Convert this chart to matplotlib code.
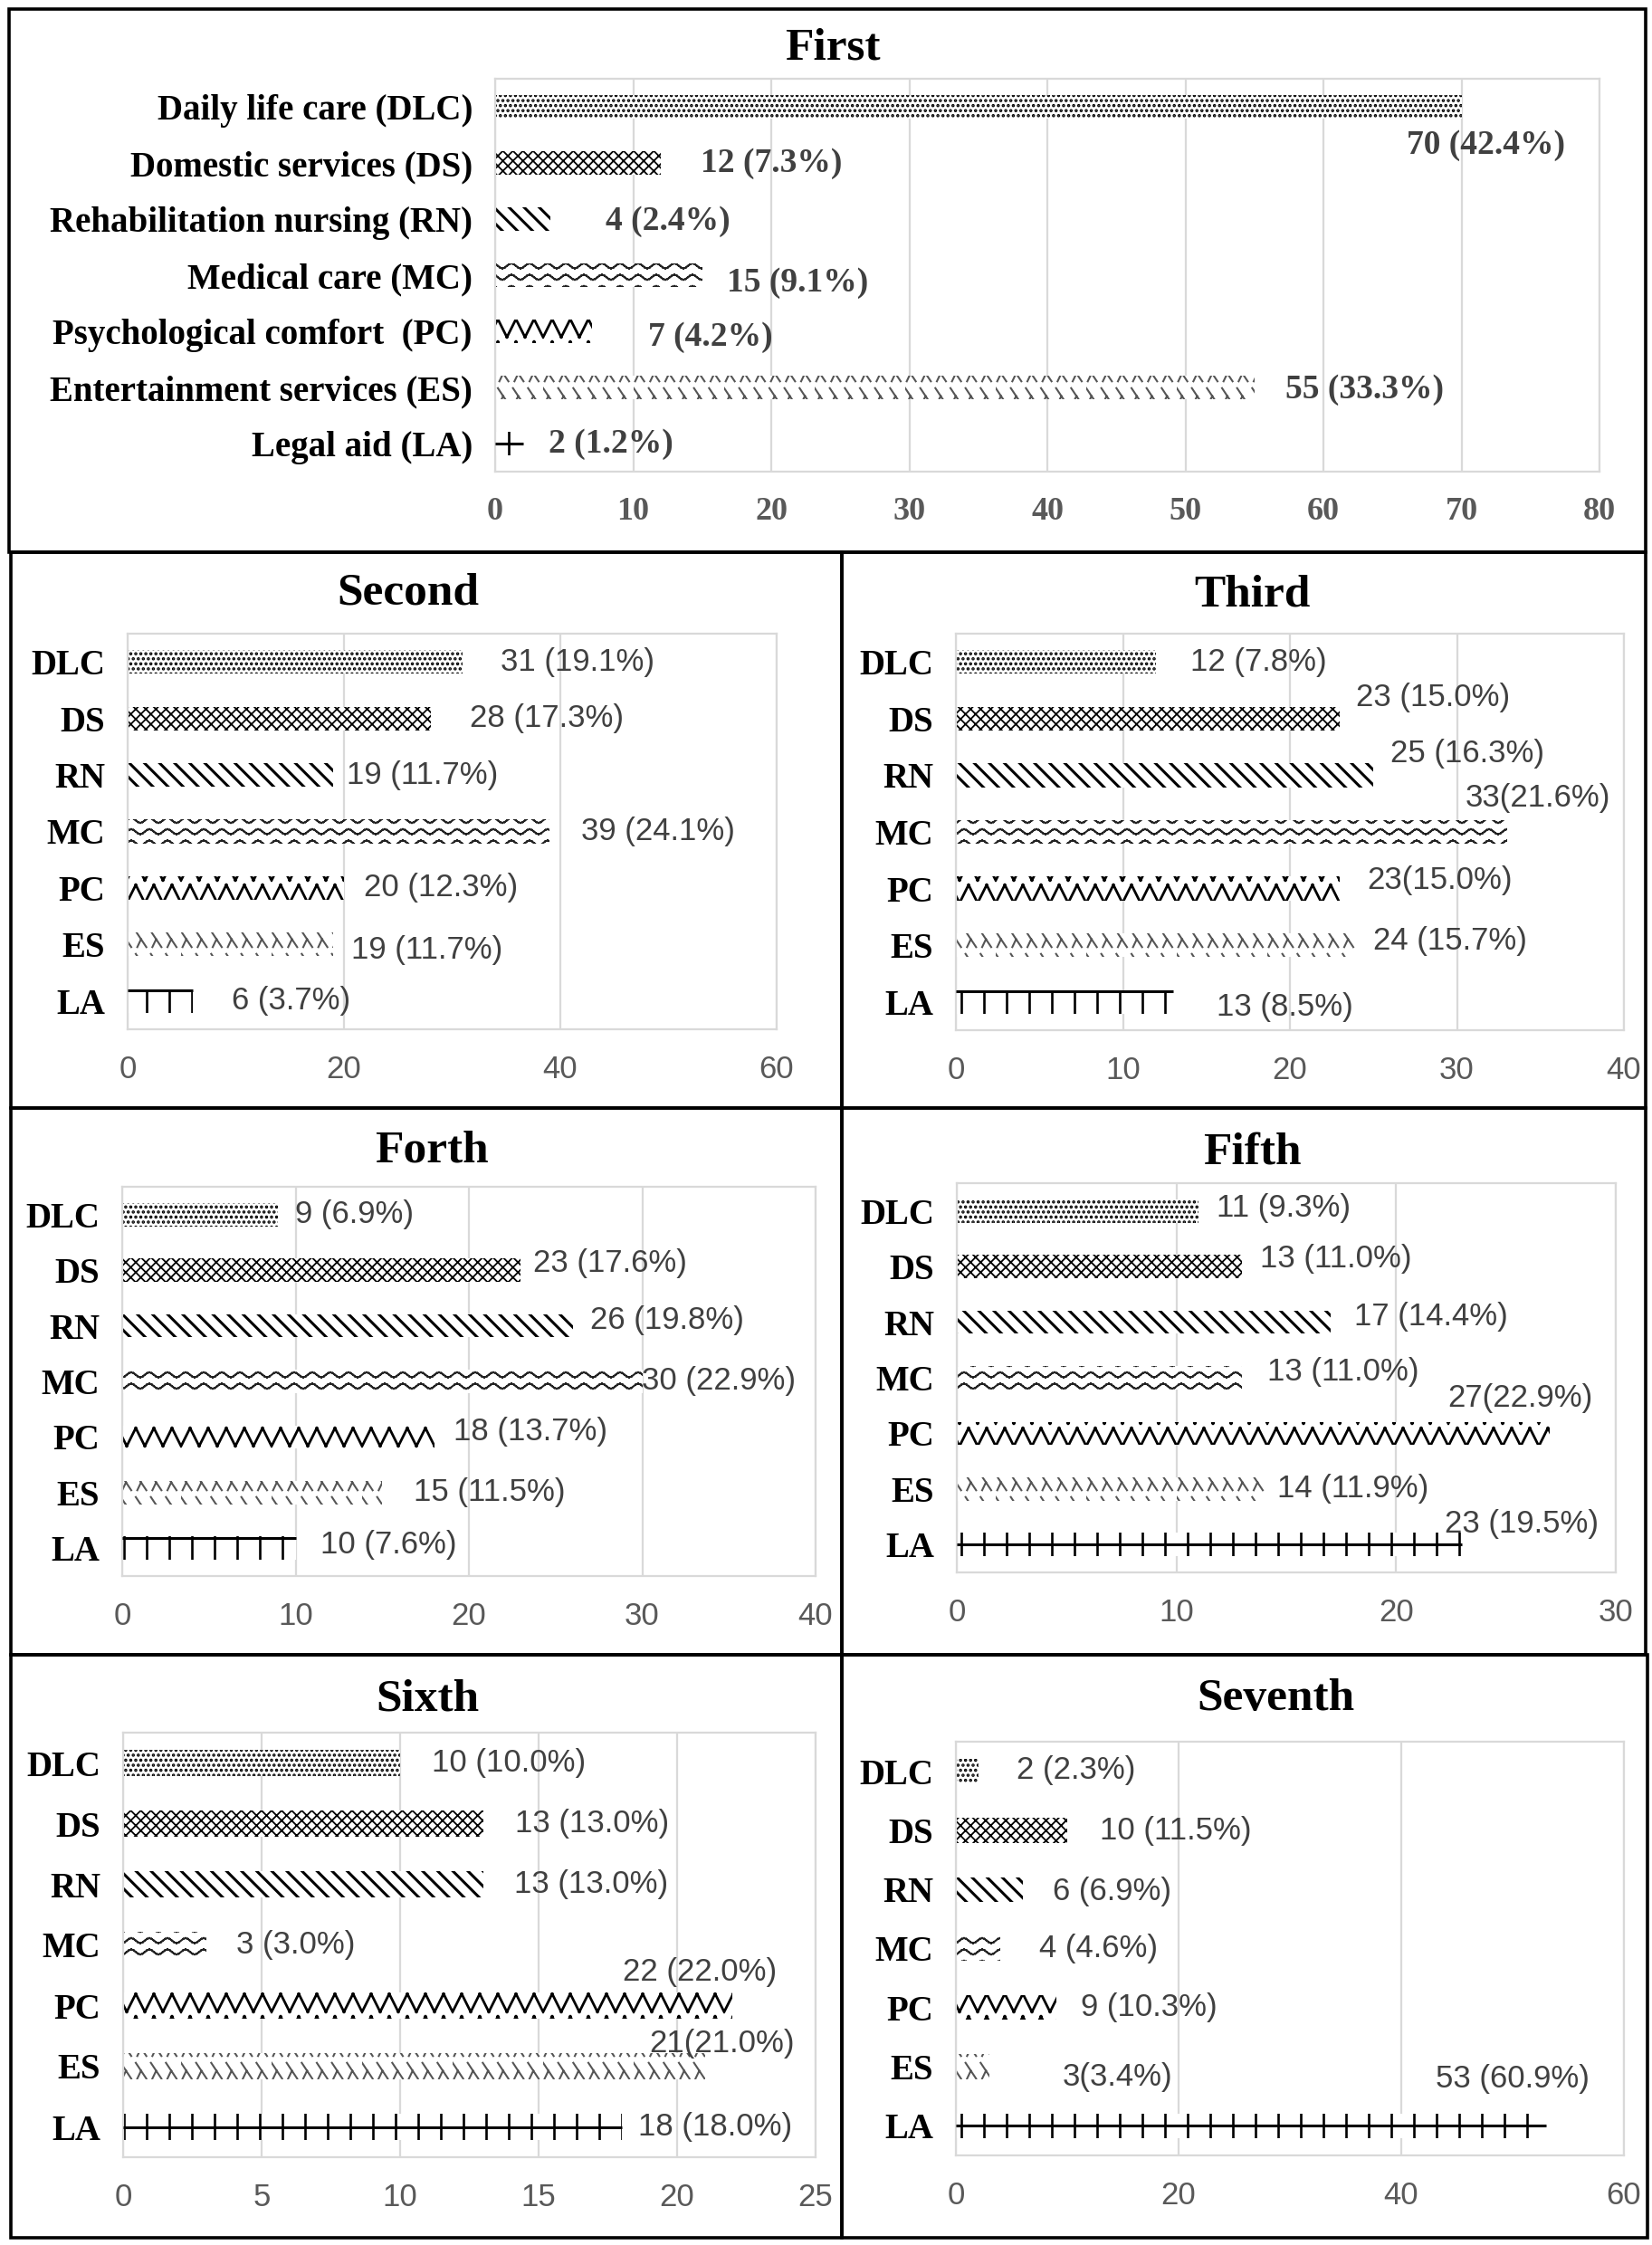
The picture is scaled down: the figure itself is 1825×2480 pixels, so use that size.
import warnings
import numpy as np
import matplotlib
matplotlib.use('Agg')
import matplotlib.pyplot as plt
import matplotlib.hatch as mhatch
from matplotlib.path import Path
from matplotlib.patches import Rectangle

warnings.filterwarnings('ignore')

# ---- data -------------------------------------------------------------
long_names = ['Daily life care (DLC)', 'Domestic services (DS)', 'Rehabilitation nursing (RN)',
              'Medical care (MC)', 'Psychological comfort  (PC)', 'Entertainment services (ES)',
              'Legal aid (LA)']
short_names = ['DLC', 'DS', 'RN', 'MC', 'PC', 'ES', 'LA']
titles = ['First', 'Second', 'Third', 'Forth', 'Fifth', 'Sixth', 'Seventh']

first = [70, 12, 4, 15, 7, 55, 2]
second = [31, 28, 19, 39, 20, 19, 6]
third = [12, 23, 25, 33, 23, 24, 13]
forth = [9, 23, 26, 30, 18, 15, 10]
fifth = [11, 13, 17, 13, 27, 14, 23]
sixth = [10, 13, 13, 3, 22, 21, 18]
seventh = [2, 10, 6, 4, 9, 3, 53]

first_lbl = ['70 (42.4%)', '12 (7.3%)', '4 (2.4%)', '15 (9.1%)', '7 (4.2%)', '55 (33.3%)', '2 (1.2%)']
second_lbl = ['31 (19.1%)', '28 (17.3%)', '19 (11.7%)', '39 (24.1%)', '20 (12.3%)', '19 (11.7%)', '6 (3.7%)']
third_lbl = ['12 (7.8%)', '23 (15.0%)', '25 (16.3%)', '33(21.6%)', '23(15.0%)', '24 (15.7%)', '13 (8.5%)']
forth_lbl = ['9 (6.9%)', '23 (17.6%)', '26 (19.8%)', '30 (22.9%)', '18 (13.7%)', '15 (11.5%)', '10 (7.6%)']
fifth_lbl = ['11 (9.3%)', '13 (11.0%)', '17 (14.4%)', '13 (11.0%)', '27(22.9%)', '14 (11.9%)', '23 (19.5%)']
sixth_lbl = ['10 (10.0%)', '13 (13.0%)', '13 (13.0%)', '3 (3.0%)', '22 (22.0%)', '21(21.0%)', '18 (18.0%)']
seventh_lbl = ['2 (2.3%)', '10 (11.5%)', '6 (6.9%)', '4 (4.6%)', '9 (10.3%)', '3(3.4%)', '53 (60.9%)']

x_max = [80, 60, 40, 40, 30, 25, 60]
x_step = [10, 20, 10, 10, 10, 5, 20]

# ---- layout (pixels of the 1825x2480 canvas) -------------------------
W, H = 1825, 2480
# axes box: left, right, top, bottom
ax_px = [(547, 1767, 87, 521), (141, 858, 700, 1137), (1056, 1794, 700, 1138),
         (135, 901, 1311, 1741), (1057, 1785, 1307, 1737),
         (136, 901, 1914, 2383), (1056, 1794, 1924, 2381)]
title_px = [(920, 53), (451, 656), (1383, 657), (477, 1272), (1383, 1273), (472, 1877), (1409, 1877)]
box_px = [(10, 1818, 10, 610), (12, 930, 610, 1224), (930, 1818, 610, 1224),
          (12, 930, 1224, 1828), (930, 1818, 1224, 1828),
          (12, 930, 1828, 2472), (930, 1820, 1828, 2472)]
# label offsets from bar end: (gap px, down px)
label_off = [
    [(-60, 43), (44, 0), (61, 2), (27, 8), (62, 6), (34, 2), (28, 0)],
    [(42, 0), (43, 0), (15, 0), (35, 0), (22, 0), (20, 6), (43, 0)],
    [(38, 0), (18, -23), (19, -24), (-46, -38), (30, -9), (18, -5), (48, 6)],
    [(19, 0), (14, -8), (19, -6), (-1, 0), (21, -6), (35, 0), (28, -4)],
    [(20, -3), (20, -9), (26, -6), (28, -7), (-113, -39), (14, 0), (-19, -23)],
    [(35, 0), (35, 0), (34, 0), (33, 0), (-121, -37), (-61, -25), (18, 0)],
    [(42, -1), (36, 1), (33, 2), (43, 0), (27, 0), (81, 11), (-122, -52)],
]
la_line_top = [False, True, True, True, False, False, False]


# ---- Excel-like fill patterns as extra hatch types --------------------
# every stroke is its own MOVETO/LINETO pair so the agg hatch fill stays empty
def put_polyline(vertices, codes, k, xs, ys):
    n = len(xs) - 1
    vertices[k:k + 2 * n:2, 0] = xs[:-1]
    vertices[k:k + 2 * n:2, 1] = ys[:-1]
    vertices[k + 1:k + 2 * n:2, 0] = xs[1:]
    vertices[k + 1:k + 2 * n:2, 1] = ys[1:]
    codes[k:k + 2 * n:2] = Path.MOVETO
    codes[k + 1:k + 2 * n:2] = Path.LINETO
    return k + 2 * n


class WaveHatch(mhatch.HatchPatternBase):
    def __init__(self, hatch, density):
        self.rows = hatch.count('w') * 8
        self.pts = 5 * 8 + 1
        self.num_vertices = self.rows * (self.pts - 1) * 2

    def set_vertices_and_codes(self, vertices, codes):
        t = np.linspace(0, 1, self.pts)
        k = 0
        for r in range(self.rows):
            ys = (r + 0.5 + 0.22 * np.sin(2 * np.pi * 5 * t)) / self.rows
            k = put_polyline(vertices, codes, k, t, ys)


class ZigHatch(mhatch.HatchPatternBase):
    def __init__(self, hatch, density):
        self.rows = hatch.count('z') * 4
        self.pts = 2 * 5 + 1
        self.num_vertices = self.rows * (self.pts - 1) * 2

    def set_vertices_and_codes(self, vertices, codes):
        t = np.linspace(0, 1, self.pts)
        up = np.arange(self.pts) % 2
        k = 0
        for r in range(self.rows):
            ys = (r + 0.1 + 0.8 * up) / self.rows
            k = put_polyline(vertices, codes, k, t, ys)


class LambdaHatch(mhatch.HatchPatternBase):
    def __init__(self, hatch, density):
        self.rows = hatch.count('y') * 4
        self.per = 6
        self.num_vertices = self.rows * self.per * 4

    def set_vertices_and_codes(self, vertices, codes):
        p = 1.0 / self.per
        k = 0
        for r in range(self.rows):
            lo = (r + 0.15) / self.rows
            hi = (r + 0.85) / self.rows
            for i in range(self.per):
                x0 = i * p
                vertices[k:k + 4] = [(x0, hi), (x0 + 0.7 * p, lo),
                                     (x0 + 0.35 * p, (lo + hi) / 2), (x0 + 0.1 * p, lo)]
                codes[k:k + 4] = [Path.MOVETO, Path.LINETO, Path.MOVETO, Path.LINETO]
                k += 4


class TickHatch(mhatch.HatchPatternBase):
    def __init__(self, hatch, density):
        self.n = hatch.count('t') * 4
        self.num_vertices = self.n * 2

    def set_vertices_and_codes(self, vertices, codes):
        xs = (np.arange(self.n) + 0.5) / self.n
        vertices[0::2, 0] = xs
        vertices[0::2, 1] = 0.0
        vertices[1::2, 0] = xs
        vertices[1::2, 1] = 1.0
        codes[0::2] = Path.MOVETO
        codes[1::2] = Path.LINETO


mhatch._hatch_types.extend([WaveHatch, ZigHatch, LambdaHatch, TickHatch])
mhatch._validate_hatch_pattern = lambda h: None

hatches = ['...', 'xxx', '\\\\', 'w', 'z', 'y', 't']
edges = ['black', 'black', 'black', '#222222', 'black', '#555555', 'black']
hatch_lw = [1.7, 1.3, 2.2, 1.5, 2.0, 1.5, 1.9]

plt.rcParams['hatch.linewidth'] = 1.6
SERIF = 'Liberation Serif'
SANS = 'Liberation Sans'


def draw_panel(fig, k, vals, lbls, names, big):
    l, r, t, b = ax_px[k]
    ax = fig.add_axes([l / W, 1 - b / H, (r - l) / W, (b - t) / H])
    y = np.arange(len(vals))
    bars = ax.barh(y, vals, height=0.42, color='white', edgecolor=edges, linewidth=0, zorder=2)
    for bar, h, hw in zip(bars, hatches, hatch_lw):
        bar.set_hatch(h)
        if hasattr(bar, 'set_hatch_linewidth'):
            bar.set_hatch_linewidth(hw)
    # legal aid pattern has a solid rule along the bar
    la_y = y[-1] - 0.19 if la_line_top[k] else y[-1]
    ax.hlines(la_y, 0, vals[-1], color='black', lw=2.2, zorder=3)

    ax.set_xlim(0, x_max[k])
    ax.set_xticks(np.arange(0, x_max[k] + x_step[k], x_step[k]))
    ax.set_ylim(len(vals) - 0.5, -0.5)
    ax.set_yticks(y)
    ax.set_yticklabels(names, fontfamily=SERIF, fontweight='bold',
                       fontsize=28, color='black')
    if big:
        ax.set_xticklabels([str(v) for v in ax.get_xticks().astype(int)],
                           fontfamily=SERIF, fontweight='bold', fontsize=26, color='#595959')
    else:
        ax.set_xticklabels([str(v) for v in ax.get_xticks().astype(int)],
                           fontfamily=SANS, fontsize=25, color='#595959')
    ax.tick_params(axis='both', length=0)
    ax.tick_params(axis='y', pad=18)
    ax.tick_params(axis='x', pad=20)
    ax.grid(axis='x', color='#d9d9d9', lw=1.6, zorder=0)
    ax.set_axisbelow(True)
    for s in ax.spines.values():
        s.set_color('#d9d9d9')
        s.set_linewidth(1.6)

    for i, (v, txt) in enumerate(zip(vals, lbls)):
        dx, dy = label_off[k][i]
        if big:
            ax.annotate(txt, xy=(v, i), xytext=(dx, -dy), textcoords='offset pixels',
                        ha='left', va='center', fontfamily=SERIF, fontweight='bold',
                        fontsize=27, color='#404040')
        else:
            ax.annotate(txt, xy=(v, i), xytext=(dx, -dy), textcoords='offset pixels',
                        ha='left', va='center', fontfamily=SANS, fontsize=25, color='#404040')

    tx, ty = title_px[k]
    fig.text(tx / W, 1 - ty / H, titles[k], ha='center', va='center',
             fontfamily=SERIF, fontweight='bold', fontsize=37)

    x0, x1, y0, y1 = box_px[k]
    fig.add_artist(Rectangle((x0 / W, 1 - y1 / H), (x1 - x0) / W, (y1 - y0) / H,
                             transform=fig.transFigure, fill=False, ec='black', lw=2.6))
    return ax


fig = plt.figure(figsize=(W / 100, H / 100), dpi=100)
fig.patch.set_facecolor('white')

panels = [(first, first_lbl), (second, second_lbl), (third, third_lbl), (forth, forth_lbl),
          (fifth, fifth_lbl), (sixth, sixth_lbl), (seventh, seventh_lbl)]
for k, (vals, lbls) in enumerate(panels):
    if k == 0:
        draw_panel(fig, k, vals, lbls, long_names, True)
    else:
        draw_panel(fig, k, vals, lbls, short_names, False)

fig.savefig('out.png', dpi=100)
